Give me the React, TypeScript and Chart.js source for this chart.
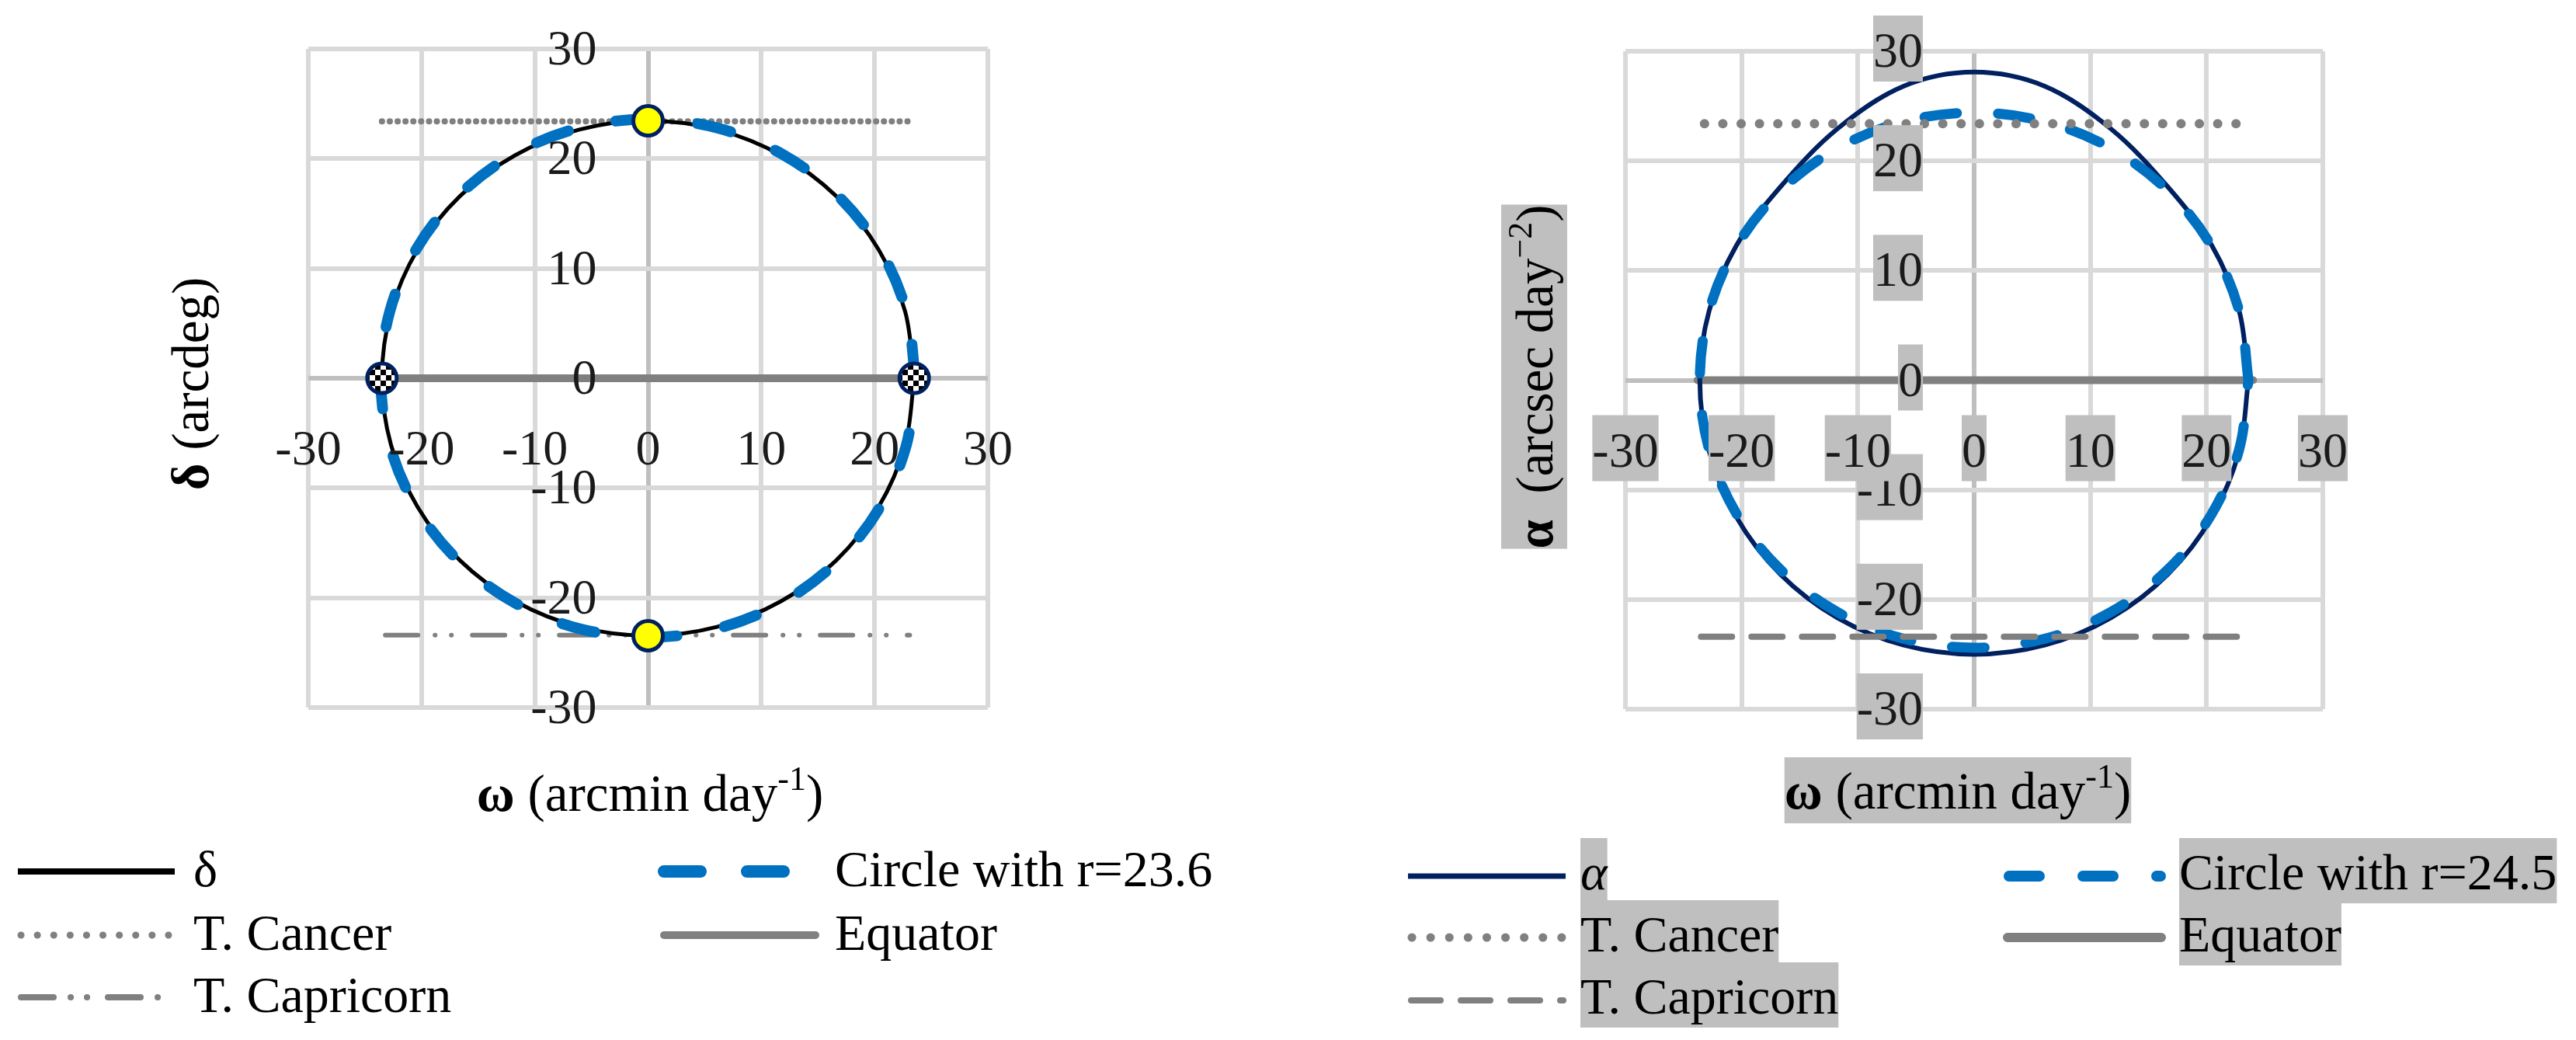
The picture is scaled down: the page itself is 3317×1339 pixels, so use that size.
import React, { useEffect, useRef } from 'react';
import { Chart, registerables } from 'chart.js';

Chart.register(...registerables);

// ---------- shared axis ticks ----------
const tickValues = [-30, -20, -10, 0, 10, 20, 30];
const tickLabels = ['-30', '-20', '-10', '0', '10', '20', '30'];

// ---------- left chart: δ versus ω ----------
const deltaOmega = [23.5, 22.7, 20.35, 16.62, 11.75, 6.08, 0, -6.08, -11.75, -16.62, -20.35, -22.7, -23.5, -22.7, -20.35, -16.62, -11.75, -6.08, 0, 6.08, 11.75, 16.62, 20.35, 22.7, 23.5];
const deltaDecl = [0, 6.07, 11.73, 16.58, 20.31, 22.65, 23.45, 22.65, 20.31, 16.58, 11.73, 6.07, 0, -6.07, -11.73, -16.58, -20.31, -22.65, -23.45, -22.65, -20.31, -16.58, -11.73, -6.07, 0];
const circleLeftX = [23.6, 22.8, 20.44, 16.69, 11.8, 6.11, 0, -6.11, -11.8, -16.69, -20.44, -22.8, -23.6, -22.8, -20.44, -16.69, -11.8, -6.11, 0, 6.11, 11.8, 16.69, 20.44, 22.8, 23.6];
const circleLeftY = [0, 6.11, 11.8, 16.69, 20.44, 22.8, 23.6, 22.8, 20.44, 16.69, 11.8, 6.11, 0, -6.11, -11.8, -16.69, -20.44, -22.8, -23.6, -22.8, -20.44, -16.69, -11.8, -6.11, 0];
const cancerLeftX = [-23.5, 23.5];
const cancerLeftY = [23.4, 23.4];
const capricornLeftX = [-23.2, 23.1];
const capricornLeftY = [-23.4, -23.4];
const equatorLeftX = [-23.5, 23.5];
const equatorLeftY = [0, 0];
const solsticeX = [0, 0];
const solsticeY = [23.45, -23.45];
const equinoxX = [-23.5, 23.5];
const equinoxY = [0, 0];
const legendLeft = ['δ', 'Circle with r=23.6', 'T. Cancer', 'Equator', 'T. Capricorn'];

// ---------- right chart: α versus ω ----------
const alphaOmega = [23.6, 22.8, 20.44, 16.69, 11.8, 6.11, 0, -6.11, -11.8, -16.69, -20.44, -22.8, -23.6, -22.8, -20.44, -16.69, -11.8, -6.11, 0, 6.11, 11.8, 16.69, 20.44, 22.8, 23.6];
const alphaAccel = [0, 6.32, 12.3, 17.6, 22.9, 26.8, 28.1, 26.8, 22.9, 17.6, 12.3, 6.32, 0, -6.47, -12.5, -17.68, -21.65, -24.15, -25.0, -24.15, -21.65, -17.68, -12.5, -6.47, 0];
const circleRightX = [23.6, 22.8, 20.44, 16.69, 11.8, 6.11, 0, -6.11, -11.8, -16.69, -20.44, -22.8, -23.6, -22.8, -20.44, -16.69, -11.8, -6.11, 0, 6.11, 11.8, 16.69, 20.44, 22.8, 23.6];
const circleRightY = [0, 6.32, 12.2, 17.25, 21.13, 23.57, 24.4, 23.57, 21.13, 17.25, 12.2, 6.32, 0, -6.32, -12.2, -17.25, -21.13, -23.57, -24.4, -23.57, -21.13, -17.25, -12.2, -6.32, 0];
const cancerRightX = [-23.2, 23.5];
const cancerRightY = [23.4, 23.4];
const capricornRightX = [-23.5, 23.8];
const capricornRightY = [-23.4, -23.4];
const equatorRightX = [-23.8, 24.0];
const equatorRightY = [0, 0];
const legendRight = ['α', 'Circle with r=24.5', 'T. Cancer', 'Equator', 'T. Capricorn'];

// ---------- styles ----------
const FAMILY = '"Liberation Serif", "Times New Roman", serif';
const F = (size: number, style = '') => `${style} ${size}px ${FAMILY}`.trim();
const TITLE = 67;
const LEG = 66;
const BLUE = '#0070C0';
const NAVY = '#002060';
const GREY = '#808080';
const BOX = '#BFBFBF';
const TICK = '#1A1A1A';
const CAPRI_LEFT_DASH = [42, 22, 0.1, 20.9, 0.1, 26.9];

const pts = (xs: number[], ys: number[]) => xs.map((x, i) => ({ x, y: ys[i] }));

type Part = { text: string; font: string; dy?: number };

function richWidth(ctx: CanvasRenderingContext2D, parts: Part[]) {
  let w = 0;
  for (const p of parts) {
    ctx.font = p.font;
    w += ctx.measureText(p.text).width;
  }
  return w;
}

function drawRich(ctx: CanvasRenderingContext2D, parts: Part[], cx: number, baseline: number, box: boolean) {
  const total = richWidth(ctx, parts);
  let x = cx - total / 2;
  if (box) {
    ctx.fillStyle = BOX;
    ctx.fillRect(x, baseline - 66, total, 85);
  }
  ctx.fillStyle = '#000';
  ctx.textAlign = 'left';
  ctx.textBaseline = 'alphabetic';
  for (const p of parts) {
    ctx.font = p.font;
    ctx.fillText(p.text, x, baseline + (p.dy || 0));
    x += ctx.measureText(p.text).width;
  }
}

function sample(ctx: CanvasRenderingContext2D, x1: number, x2: number, y: number, color: string, width: number, dash: number[], cap: CanvasLineCap) {
  ctx.save();
  ctx.strokeStyle = color;
  ctx.lineWidth = width;
  ctx.lineCap = cap;
  ctx.setLineDash(dash);
  ctx.beginPath();
  ctx.moveTo(x1, y);
  ctx.lineTo(x2, y);
  ctx.stroke();
  ctx.restore();
}

function legendText(ctx: CanvasRenderingContext2D, text: string, x: number, baseline: number, box: boolean, font: string) {
  ctx.font = font;
  const w = ctx.measureText(text).width;
  if (box) {
    ctx.fillStyle = BOX;
    ctx.fillRect(x, baseline - 66, w, 84);
  }
  ctx.fillStyle = '#000';
  ctx.textAlign = 'left';
  ctx.textBaseline = 'alphabetic';
  ctx.fillText(text, x, baseline);
}

function drawTicks(chart: any, boxed: boolean) {
  const ctx: CanvasRenderingContext2D = chart.ctx;
  const xs = chart.scales.x;
  const ys = chart.scales.y;
  const x0 = xs.getPixelForValue(0);
  const y0 = ys.getPixelForValue(0);
  ctx.save();
  ctx.font = F(64);
  ctx.textBaseline = 'alphabetic';
  tickValues.forEach((v, i) => {
    const t = tickLabels[i];
    const w = ctx.measureText(t).width;
    const bx = x0 - 66;
    const by = ys.getPixelForValue(v) + 20;
    if (boxed) {
      ctx.fillStyle = BOX;
      ctx.fillRect(bx - w, by - 66, w, 85);
    }
    ctx.fillStyle = TICK;
    ctx.textAlign = 'right';
    ctx.fillText(t, bx, by);
  });
  tickValues.forEach((v, i) => {
    const t = tickLabels[i];
    const w = ctx.measureText(t).width;
    const cx = xs.getPixelForValue(v);
    const by = y0 + 111;
    if (boxed) {
      ctx.fillStyle = BOX;
      ctx.fillRect(cx - w / 2, by - 66, w, 85);
    }
    ctx.fillStyle = TICK;
    ctx.textAlign = 'center';
    ctx.fillText(t, cx, by);
  });
  ctx.restore();
}

const leftDecor = {
  id: 'leftDecor',
  afterDatasetsDraw(chart: any) {
    drawTicks(chart, false);
  },
  afterDraw(chart: any) {
    const ctx: CanvasRenderingContext2D = chart.ctx;
    ctx.save();
    drawRich(ctx, [
      { text: 'ω', font: F(TITLE, 'bold') },
      { text: ' (arcmin day', font: F(TITLE) },
      { text: '-1', font: F(44), dy: -27 },
      { text: ')', font: F(TITLE) },
    ], 837, 1044, false);
    ctx.save();
    ctx.translate(268, 494);
    ctx.rotate(-Math.PI / 2);
    drawRich(ctx, [
      { text: 'δ', font: F(TITLE, 'bold') },
      { text: ' (arcdeg)', font: F(TITLE) },
    ], 0, 0, false);
    ctx.restore();
    const r1 = 1122, r2 = 1204, r3 = 1284;
    sample(ctx, 23, 225, r1, '#000', 8, [], 'butt');
    legendText(ctx, legendLeft[0], 249, r1 + 19, false, F(LEG));
    sample(ctx, 855, 1009, r1, BLUE, 16, [47, 60], 'round');
    legendText(ctx, legendLeft[1], 1075, r1 + 19, false, F(LEG));
    sample(ctx, 27, 225, r2, GREY, 9, [0.1, 21], 'round');
    legendText(ctx, legendLeft[2], 249, r2 + 19, false, F(LEG));
    sample(ctx, 855, 1050, r2, GREY, 10, [], 'round');
    legendText(ctx, legendLeft[3], 1075, r2 + 19, false, F(LEG));
    sample(ctx, 27, 222, r3, GREY, 8, CAPRI_LEFT_DASH, 'round');
    legendText(ctx, legendLeft[4], 249, r3 + 19, false, F(LEG));
    ctx.restore();
  },
};

const rightDecor = {
  id: 'rightDecor',
  afterDatasetsDraw(chart: any) {
    drawTicks(chart, true);
  },
  afterDraw(chart: any) {
    const ctx: CanvasRenderingContext2D = chart.ctx;
    ctx.save();
    drawRich(ctx, [
      { text: 'ω', font: F(TITLE, 'bold') },
      { text: ' (arcmin day', font: F(TITLE) },
      { text: '-1', font: F(44), dy: -27 },
      { text: ')', font: F(TITLE) },
    ], 861, 1041, true);
    ctx.save();
    ctx.translate(339, 485);
    ctx.rotate(-Math.PI / 2);
    drawRich(ctx, [
      { text: 'α', font: F(TITLE, 'bold') },
      { text: '  (arcsec day', font: F(TITLE) },
      { text: '−2', font: F(44), dy: -27 },
      { text: ')', font: F(TITLE) },
    ], 0, 0, true);
    ctx.restore();
    const r1 = 1128, r2 = 1207, r3 = 1288;
    sample(ctx, 153, 356, r1, NAVY, 7, [], 'butt');
    legendText(ctx, legendRight[0], 375, r1 + 17, true, F(LEG, 'italic'));
    sample(ctx, 927, 1122, r1, BLUE, 14, [39, 56], 'round');
    legendText(ctx, legendRight[1], 1146, r1 + 17, true, F(LEG));
    sample(ctx, 158, 356, r2, GREY, 11, [0.1, 24], 'round');
    legendText(ctx, legendRight[2], 375, r2 + 18, true, F(LEG));
    sample(ctx, 925, 1123, r2, GREY, 12, [], 'round');
    legendText(ctx, legendRight[3], 1146, r2 + 18, true, F(LEG));
    sample(ctx, 157, 353, r3, GREY, 8, [38, 26], 'round');
    legendText(ctx, legendRight[4], 375, r3 + 17, true, F(LEG));
    ctx.restore();
  },
};

function scales() {
  const grid = {
    color: (c: any) => (c.tick && c.tick.value === 0 ? '#BFBFBF' : '#D9D9D9'),
    lineWidth: 6,
    drawTicks: false,
  };
  const axis = {
    type: 'linear' as const,
    min: -30,
    max: 30,
    ticks: { display: false, stepSize: 10 },
    grid,
    border: { display: false },
  };
  return { x: { ...axis }, y: { ...axis } };
}

const lineDs = (data: any[], color: string, width: number, dash: number[], order: number, tension = 0) => ({
  data,
  showLine: true,
  borderColor: color,
  backgroundColor: color,
  borderWidth: width,
  borderDash: dash,
  borderCapStyle: 'round' as CanvasLineCap,
  borderJoinStyle: 'round' as CanvasLineJoin,
  tension,
  pointRadius: 0,
  pointHoverRadius: 0,
  fill: false,
  order,
});

function checkerPattern(ctx: CanvasRenderingContext2D) {
  const c = document.createElement('canvas');
  c.width = 14;
  c.height = 14;
  const g = c.getContext('2d')!;
  g.fillStyle = '#fff';
  g.fillRect(0, 0, 14, 14);
  g.fillStyle = '#000';
  g.fillRect(0, 0, 7, 7);
  g.fillRect(7, 7, 7, 7);
  return ctx.createPattern(c, 'repeat');
}

export default function App() {
  const leftRef = useRef<HTMLCanvasElement>(null);
  const rightRef = useRef<HTMLCanvasElement>(null);

  useEffect(() => {
    document.body.style.margin = '0';
    const lc = leftRef.current!;
    const rc = rightRef.current!;
    const pattern = checkerPattern(lc.getContext('2d')!);

    const left = new Chart(lc, {
      type: 'scatter',
      data: {
        datasets: [
          { data: pts(solsticeX, solsticeY), showLine: false, pointRadius: 19, pointHoverRadius: 19, pointBorderWidth: 5, pointBackgroundColor: '#FFFF00', pointBorderColor: NAVY, order: 0 },
          { data: pts(equinoxX, equinoxY), showLine: false, pointRadius: 19, pointHoverRadius: 19, pointBorderWidth: 5, pointBackgroundColor: pattern as any, pointBorderColor: NAVY, order: 0 },
          lineDs(pts(circleLeftX, circleLeftY), BLUE, 14, [44, 62], 1, 0.34),
          lineDs(pts(deltaOmega, deltaDecl), '#000', 5, [], 2, 0.34),
          lineDs(pts(equatorLeftX, equatorLeftY), GREY, 10, [], 3),
          lineDs(pts(cancerLeftX, cancerLeftY), GREY, 8, [0.1, 10], 4),
          lineDs(pts(capricornLeftX, capricornLeftY), GREY, 6, CAPRI_LEFT_DASH, 5),
        ] as any,
      },
      options: {
        responsive: false,
        maintainAspectRatio: false,
        animation: false,
        devicePixelRatio: 1,
        events: [],
        layout: { padding: { left: 397, right: 388, top: 63, bottom: 428 } },
        scales: scales() as any,
        plugins: { legend: { display: false }, tooltip: { enabled: false } },
      },
      plugins: [leftDecor],
    });

    const right = new Chart(rc, {
      type: 'scatter',
      data: {
        datasets: [
          lineDs(pts(cancerRightX, cancerRightY), GREY, 12, [0.1, 23.5], 0),
          lineDs(pts(capricornRightX, capricornRightY), GREY, 8, [40, 25], 1),
          lineDs(pts(circleRightX, circleRightY), BLUE, 13, [42, 53], 2, 0.34),
          lineDs(pts(alphaOmega, alphaAccel), NAVY, 6, [], 3, 0.34),
          lineDs(pts(equatorRightX, equatorRightY), GREY, 10, [], 4),
        ] as any,
      },
      options: {
        responsive: false,
        maintainAspectRatio: false,
        animation: false,
        devicePixelRatio: 1,
        events: [],
        layout: { padding: { left: 433, right: 326, top: 66, bottom: 426 } },
        scales: scales() as any,
        plugins: { legend: { display: false }, tooltip: { enabled: false } },
      },
      plugins: [rightDecor],
    });

    return () => {
      left.destroy();
      right.destroy();
    };
  }, []);

  return (
    <div style={{ position: 'relative', width: 3317, height: 1339, background: '#fff', overflow: 'hidden' }}>
      <canvas ref={leftRef} width={1660} height={1339} style={{ position: 'absolute', left: 0, top: 0, width: 1660, height: 1339 }} />
      <canvas ref={rightRef} width={1657} height={1339} style={{ position: 'absolute', left: 1660, top: 0, width: 1657, height: 1339 }} />
    </div>
  );
}
